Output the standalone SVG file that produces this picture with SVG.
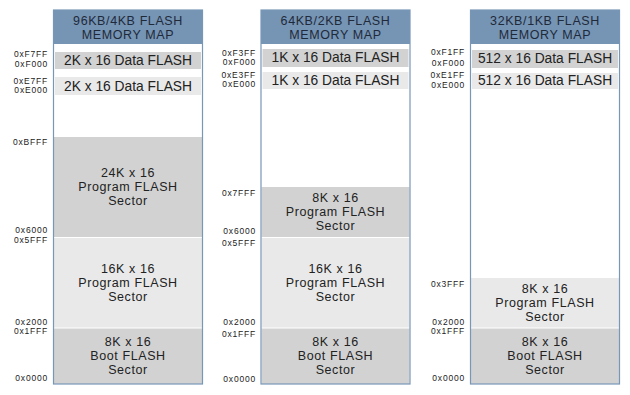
<svg xmlns="http://www.w3.org/2000/svg" width="630" height="395" viewBox="0 0 630 395">
<style>
.hdr{fill:#7694b4}
.frame{fill:none;stroke:#7896b6;stroke-width:1.2}
.dk{fill:#d2d2d2}
.lt{fill:#e9e9e9}
.sep{stroke:#ffffff;stroke-width:1.2}
.d{font-family:"Liberation Sans",Arial,sans-serif;font-size:13.8px;fill:#222222;text-anchor:middle}
.t{font-family:"Liberation Sans",Arial,sans-serif;font-size:12.5px;letter-spacing:0.6px;fill:#222222;text-anchor:middle}
.h{font-family:"Liberation Sans",Arial,sans-serif;font-size:12.5px;letter-spacing:0.6px;fill:#1e2a3a;text-anchor:middle}
.a{font-family:"Liberation Sans",Arial,sans-serif;font-size:8.5px;letter-spacing:0.8px;fill:#222222;text-anchor:end}
</style>
<rect width="630" height="395" fill="#ffffff"/>

<g id="map96">
  <rect x="53.5" y="44" width="149" height="340" fill="#ffffff"/>
  <rect class="hdr" x="53.5" y="10" width="149" height="34"/>
  <text class="h" x="128" y="24.5">96KB/4KB FLASH</text>
  <text class="h" x="128" y="38.5">MEMORY MAP</text>
  <rect class="dk" x="55" y="52" width="146" height="17"/>
  <text class="d" x="128" y="65">2K x 16 Data FLASH</text>
  <rect class="lt" x="55" y="77" width="146" height="18"/>
  <text class="d" x="128" y="90.5">2K x 16 Data FLASH</text>
  <rect class="dk" x="54" y="137" width="148" height="100"/>
  <text class="t" x="128" y="177">24K x 16</text>
  <text class="t" x="128" y="191">Program FLASH</text>
  <text class="t" x="128" y="205">Sector</text>
  <rect class="lt" x="54" y="237" width="148" height="91"/>
  <text class="t" x="128" y="272.5">16K x 16</text>
  <text class="t" x="128" y="286.5">Program FLASH</text>
  <text class="t" x="128" y="300.5">Sector</text>
  <rect class="dk" x="54" y="328" width="148" height="56"/>
  <text class="t" x="128" y="346">8K x 16</text>
  <text class="t" x="128" y="360">Boot FLASH</text>
  <text class="t" x="128" y="374">Sector</text>
  <line class="sep" x1="54" y1="237.5" x2="202" y2="237.5"/>
  <line class="sep" x1="54" y1="328" x2="202" y2="328"/>
  <rect class="frame" x="53.5" y="10" width="149" height="374"/>
  <text class="a" x="48" y="57.2">0xF7FF</text>
  <text class="a" x="48" y="66.8">0xF000</text>
  <text class="a" x="48" y="83.7">0xE7FF</text>
  <text class="a" x="48" y="93.3">0xE000</text>
  <text class="a" x="48" y="145">0xBFFF</text>
  <text class="a" x="48" y="233">0x6000</text>
  <text class="a" x="48" y="243">0x5FFF</text>
  <text class="a" x="48" y="324.7">0x2000</text>
  <text class="a" x="48" y="334.3">0x1FFF</text>
  <text class="a" x="48" y="381">0x0000</text>
</g>

<g id="map64">
  <rect x="261" y="44" width="149" height="340" fill="#ffffff"/>
  <rect class="hdr" x="261" y="10" width="149" height="34"/>
  <text class="h" x="335.5" y="24.5">64KB/2KB FLASH</text>
  <text class="h" x="335.5" y="38.5">MEMORY MAP</text>
  <rect class="dk" x="262.5" y="49" width="146" height="18"/>
  <text class="d" x="335.5" y="62">1K x 16 Data FLASH</text>
  <rect class="lt" x="262.5" y="72" width="146" height="17"/>
  <text class="d" x="335.5" y="85">1K x 16 Data FLASH</text>
  <rect class="dk" x="261.5" y="187" width="148" height="50"/>
  <text class="t" x="335.5" y="202">8K x 16</text>
  <text class="t" x="335.5" y="216">Program FLASH</text>
  <text class="t" x="335.5" y="230">Sector</text>
  <rect class="lt" x="261.5" y="237" width="148" height="91"/>
  <text class="t" x="335.5" y="272.5">16K x 16</text>
  <text class="t" x="335.5" y="286.5">Program FLASH</text>
  <text class="t" x="335.5" y="300.5">Sector</text>
  <rect class="dk" x="261.5" y="328" width="148" height="56"/>
  <text class="t" x="335.5" y="346">8K x 16</text>
  <text class="t" x="335.5" y="360">Boot FLASH</text>
  <text class="t" x="335.5" y="374">Sector</text>
  <line class="sep" x1="261.5" y1="237.5" x2="409.5" y2="237.5"/>
  <line class="sep" x1="261.5" y1="328" x2="409.5" y2="328"/>
  <rect class="frame" x="261" y="10" width="149" height="374"/>
  <text class="a" x="256" y="55.8">0xF3FF</text>
  <text class="a" x="256" y="65.4">0xF000</text>
  <text class="a" x="256" y="77.5">0xE3FF</text>
  <text class="a" x="256" y="87.1">0xE000</text>
  <text class="a" x="256" y="196">0x7FFF</text>
  <text class="a" x="256" y="234">0x6000</text>
  <text class="a" x="256" y="246">0x5FFF</text>
  <text class="a" x="256" y="325">0x2000</text>
  <text class="a" x="256" y="337">0x1FFF</text>
  <text class="a" x="256" y="381.5">0x0000</text>
</g>

<g id="map32">
  <rect x="470.5" y="44" width="149" height="340" fill="#ffffff"/>
  <rect class="hdr" x="470.5" y="10" width="149" height="34"/>
  <text class="h" x="545" y="24.5">32KB/1KB FLASH</text>
  <text class="h" x="545" y="38.5">MEMORY MAP</text>
  <rect class="dk" x="472" y="50" width="146" height="18"/>
  <text class="d" x="545" y="62.5">512 x 16 Data FLASH</text>
  <rect class="lt" x="472" y="73" width="146" height="16"/>
  <text class="d" x="545" y="85">512 x 16 Data FLASH</text>
  <rect class="lt" x="471" y="278" width="148" height="50"/>
  <text class="t" x="545" y="293">8K x 16</text>
  <text class="t" x="545" y="307">Program FLASH</text>
  <text class="t" x="545" y="321">Sector</text>
  <rect class="dk" x="471" y="328" width="148" height="56"/>
  <text class="t" x="545" y="346">8K x 16</text>
  <text class="t" x="545" y="360">Boot FLASH</text>
  <text class="t" x="545" y="374">Sector</text>
  <line class="sep" x1="471" y1="328" x2="619" y2="328"/>
  <rect class="frame" x="470.5" y="10" width="149" height="374"/>
  <text class="a" x="465" y="55">0xF1FF</text>
  <text class="a" x="465" y="65.5">0xF000</text>
  <text class="a" x="465" y="78">0xE1FF</text>
  <text class="a" x="465" y="87.6">0xE000</text>
  <text class="a" x="465" y="287">0x3FFF</text>
  <text class="a" x="465" y="324.7">0x2000</text>
  <text class="a" x="465" y="334.3">0x1FFF</text>
  <text class="a" x="465" y="381">0x0000</text>
</g>
</svg>
